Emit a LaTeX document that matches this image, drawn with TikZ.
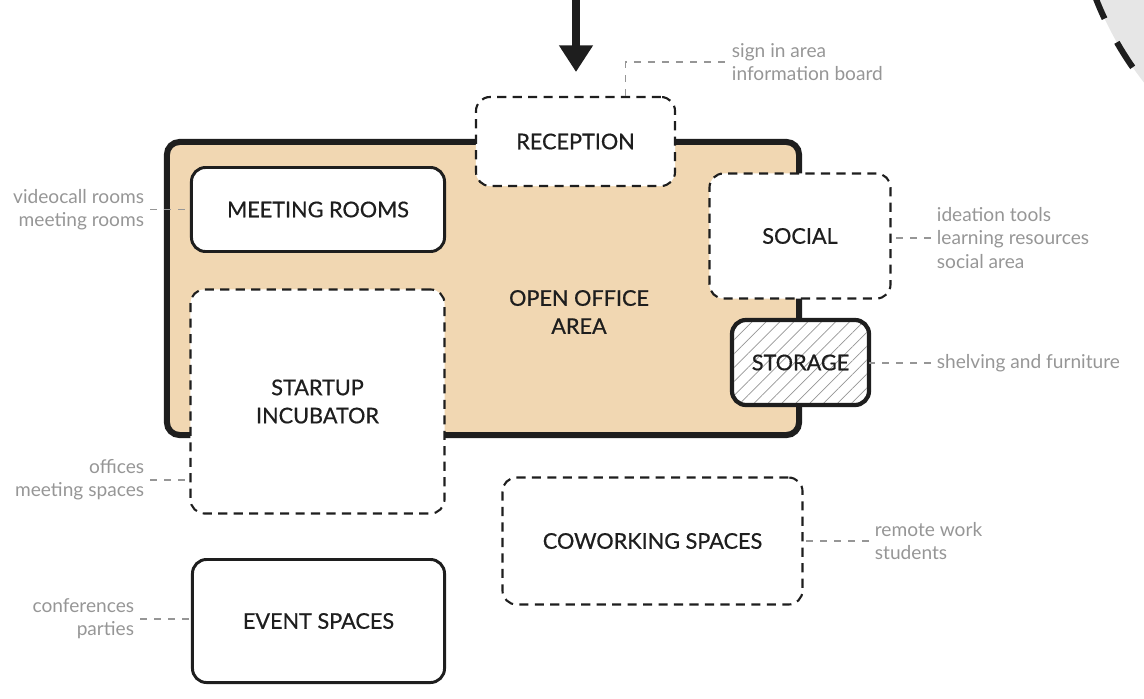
\documentclass[tikz,border=0pt]{standalone}
\usepackage{fontspec}
\setmainfont{Lato}
\newfontfamily\boxfont[FakeBold=0.6]{Lato}
\usepackage{tikz}
\usetikzlibrary{arrows.meta,positioning,calc,patterns.meta}
\definecolor{mInk}{RGB}{30,30,30}
\definecolor{mSand}{RGB}{241,215,178}
\definecolor{mNote}{RGB}{150,150,150}
\definecolor{mMist}{RGB}{230,230,230}

\begin{document}
\begin{tikzpicture}[x=0.025cm, y=-0.025cm,
    every node/.style={inner sep=2pt},
    room/.style={draw=mInk, fill=white, rounded corners=10pt, line width=2.1pt, align=center,
      text=mInk, font=\boxfont\fontsize{15.4}{20}\selectfont},
    plan/.style={room, line width=1.5pt, dash pattern=on 6.5pt off 4.5pt},
    note/.style={text=mNote, inner sep=4pt, font=\fontsize{13.6}{16.4}\selectfont},
    link/.style={draw=mNote, line width=0.8pt, dash pattern=on 5pt off 5pt}]
  \useasboundingbox (0,0) rectangle (1144,698);
  % neighbouring zone, cut off by the frame
  \begin{scope}
    \clip (0,0) rectangle (1144,698);
    \draw[mInk, fill=mMist, line width=4.3pt, dash pattern=on 21pt off 19pt] (1406,-123) circle (333);
  \end{scope}
  % open office and the rooms round it
  \node[draw=mInk, fill=mSand, line width=4.3pt, rounded corners=9pt,
    minimum width=15.8cm, minimum height=7.325cm] (office) at (483,288.5) {};
  \node[room, draw=none, fill=none] (officelbl) at (579,312) {OPEN OFFICE\\AREA};
  \node[plan, minimum width=4.975cm, minimum height=2.225cm] (reception) at (575.5,141.5) {RECEPTION};
  \node[room, minimum width=6.325cm, minimum height=2.1cm] (meeting) at (318,209.5) {MEETING ROOMS};
  \node[plan, minimum width=4.525cm, minimum height=3.125cm] (social) at (800,236) {SOCIAL};
  \node[room, line width=3pt, preaction={fill=white}, pattern={Lines[angle=45,distance=7pt,line width=0.5pt]},
    pattern color=mNote, minimum width=3.425cm, minimum height=2.125cm] (storage) at (800.5,362.5) {STORAGE};
  \node[plan, minimum width=6.35cm, minimum height=5.6cm] (startup) at (317.5,401.5) {STARTUP\\INCUBATOR};
  \node[plan, minimum width=7.5cm, minimum height=3.175cm] (cowork) at (652.5,541) {COWORKING SPACES};
  \node[room, minimum width=6.3cm, minimum height=3.075cm] (event) at (318.5,621) {EVENT SPACES};
  % entrance
  \coordinate (entry) at (576,-5);
  \draw[mInk, line width=5.7pt, -{Triangle[length=19pt,width=23pt]}, shorten >=17pt]
    (entry) -- (entry |- reception.north);
  % notes
  \node[note, anchor=west, align=left] (signnote) at (726,62) {sign in area\\information board};
  \node[note, anchor=east, align=right] (meetnote) at (150,209.5) {videocall rooms\\meeting rooms};
  \node[note, anchor=west, align=left] (socialnote) at (931,238) {ideation tools\\learning resources\\social area};
  \node[note, anchor=west, align=left] (storenote) at (931,363) {shelving and furniture};
  \node[note, anchor=east, align=right] (startnote) at (150,480) {offices\\meeting spaces};
  \node[note, anchor=west, align=left] (coworknote) at (869,541) {remote work\\students};
  \node[note, anchor=east, align=right] (eventnote) at (140,619) {conferences\\parties};
  \draw[link] ($(reception.north)+(50,0)$) |- (signnote.west);
  \foreach \n/\b in {meetnote.east/meeting.west, socialnote.west/social.east, storenote.west/storage.east,
      startnote.east/startup.west, coworknote.west/cowork.east, eventnote.east/event.west}
    \draw[link] (\n) -- (\n -| \b);
\end{tikzpicture}
\end{document}
